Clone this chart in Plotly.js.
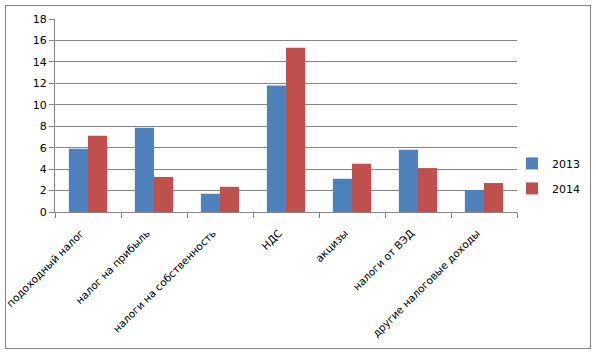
<!DOCTYPE html>
<html>
<head>
<meta charset="utf-8">
<script src="https://cdn.plot.ly/plotly-3.0.1.min.js"></script>
<style>
html,body{margin:0;padding:0;background:#fff;}
#wrap{position:relative;width:596px;height:353px;}
#chart{position:absolute;left:0;top:0;width:596px;height:353px;}
#frame{position:absolute;left:5px;top:5px;width:584px;height:342px;border:1px solid #868686;pointer-events:none;}
</style>
</head>
<body>
<div id="wrap"><div id="chart"></div><div id="frame"></div></div>
<script>
const categories = ["подоходный налог", "налог на прибыль", "налоги на собственность", "НДС", "акцизы", "налоги от ВЭД", "другие налоговые доходы"];
const series2013 = [5.9, 7.85, 1.7, 11.8, 3.1, 5.8, 2.05];
const series2014 = [7.1, 3.27, 2.35, 15.33, 4.5, 4.1, 2.7];
const yTicks = [0, 2, 4, 6, 8, 10, 12, 14, 16, 18];

const traces = [
  {type: "bar", name: "2013", x: categories, y: series2013, marker: {color: "#4F81BD"}, legendgroup: "a"},
  {type: "bar", name: "2014", x: categories, y: series2014, marker: {color: "#C0504D"}, legendgroup: "b"}
];

const layout = {
  width: 596, height: 353,
  margin: {l: 55, r: 78, t: 19, b: 141},
  paper_bgcolor: "#fff", plot_bgcolor: "#fff",
  font: {family: "DejaVu Sans, Verdana, sans-serif", size: 11, color: "#000"},
  barmode: "group",
  bargap: 0.42,
  bargroupgap: 0,
  showlegend: true,
  legend: {xref: "paper", yref: "paper", x: 0.987, xanchor: "left", y: 0.187, yanchor: "middle",
           traceorder: "grouped", tracegroupgap: 6, font: {size: 11}, bgcolor: "rgba(0,0,0,0)"},
  xaxis: {
    type: "category",
    tickangle: -45,
    tickfont: {size: 10.5},
    ticklabelstandoff: 10,
    ticklabelshift: -7,
    showline: true, linecolor: "#868686", linewidth: 1,
    ticks: "outside", tickson: "boundaries", ticklen: 5, tickcolor: "#868686",
    showgrid: false, fixedrange: true
  },
  yaxis: {
    range: [0, 18],
    tickvals: yTicks,
    showline: true, linecolor: "#868686", linewidth: 1,
    ticks: "outside", ticklen: 5, tickcolor: "#868686",
    showgrid: true, gridcolor: "#868686", gridwidth: 1,
    zeroline: false, fixedrange: true
  }
};

Plotly.newPlot("chart", traces, layout, {displayModeBar: false, staticPlot: true});
</script>
</body>
</html>
